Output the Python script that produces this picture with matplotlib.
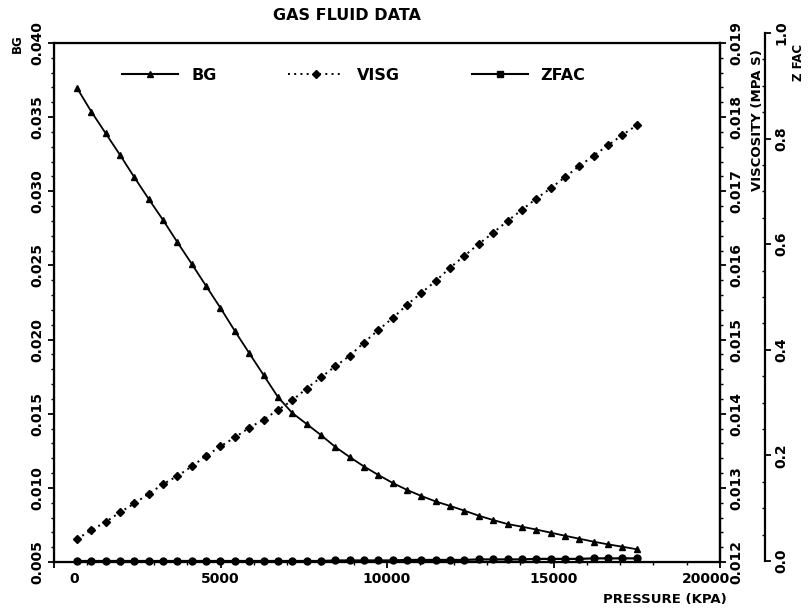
import matplotlib
matplotlib.use("Agg")
import matplotlib.pyplot as plt
from matplotlib.ticker import MultipleLocator, FormatStrFormatter
from matplotlib.lines import Line2D
import matplotlib.transforms as mtransforms

plt.rcParams['font.family'] = ['DejaVu Sans']
plt.rcParams['font.weight'] = 'bold'

# ---------------- data ----------------
pressure = [689.5, 1120.5, 1551.5, 1982.5, 2413.5, 2844.5, 3275.5, 3706.5, 4137.5, 4568.5,
            4999.5, 5430.5, 5861.5, 6292.5, 6723.5, 7154.5, 7585.5, 8016.5, 8447.5, 8878.5,
            9309.5, 9740.5, 10171.5, 10602.5, 11033.5, 11464.5, 11895.5, 12326.5, 12757.5, 13188.5,
            13619.5, 14050.5, 14481.5, 14912.5, 15343.5, 15774.5, 16205.5, 16636.5, 17067.5, 17498.5]

bg = [0.03697, 0.03537, 0.03391, 0.03245, 0.03094, 0.02948, 0.02806, 0.02656, 0.02510, 0.02361,
      0.02213, 0.02058, 0.01909, 0.01761, 0.01613, 0.01505, 0.01431, 0.01356, 0.01276, 0.01208,
      0.01144, 0.01087, 0.01033, 0.00986, 0.00945, 0.00908, 0.00878, 0.00846, 0.00812, 0.00783,
      0.00756, 0.00738, 0.00719, 0.00698, 0.00677, 0.00657, 0.00637, 0.00619, 0.00603, 0.00586]

visg = [0.01231, 0.01243, 0.01254, 0.01267, 0.01279, 0.01292, 0.01305, 0.01316, 0.01329, 0.01343,
        0.01356, 0.01368, 0.01381, 0.01392, 0.01405, 0.01418, 0.01434, 0.01449, 0.01464, 0.01478,
        0.01496, 0.01513, 0.01529, 0.01547, 0.01563, 0.01579, 0.01597, 0.01613, 0.01629, 0.01644,
        0.01660, 0.01675, 0.01690, 0.01704, 0.01719, 0.01734, 0.01748, 0.01762, 0.01776, 0.01789]

zfac = [0.000, 0.000, 0.000, 0.000, 0.000, 0.000, 0.000, 0.000, 0.000, 0.000,
        0.000, 0.000, 0.000, 0.000, 0.000, 0.000, 0.000, 0.000, 0.001, 0.001,
        0.001, 0.001, 0.001, 0.002, 0.002, 0.002, 0.002, 0.002, 0.003, 0.003,
        0.003, 0.003, 0.004, 0.004, 0.004, 0.004, 0.005, 0.005, 0.005, 0.005]

x_ticks = [0, 5000, 10000, 15000, 20000]
bg_ticks = [0.005, 0.010, 0.015, 0.020, 0.025, 0.030, 0.035, 0.040]
visc_ticks = [0.012, 0.013, 0.014, 0.015, 0.016, 0.017, 0.018, 0.019]
z_ticks = [0.0, 0.2, 0.4, 0.6, 0.8, 1.0]

# ---------------- layout ----------------
W, H = 811, 608
fig = plt.figure(figsize=(W / 100, H / 100), dpi=100)
fig.patch.set_facecolor('white')

x0, x1 = 54, 720
y_top, y_bot = 43, 562
ax = fig.add_axes([x0 / W, 1 - y_bot / H, (x1 - x0) / W, (y_bot - y_top) / H])
ax2 = ax.twinx()

zx = 765
z_top, z_bot = 33, 561
ax3 = fig.add_axes([x0 / W, 1 - z_bot / H, (zx - x0) / W, (z_bot - z_top) / H])
ax3.patch.set_visible(False)

fs = 10
lw_sp = 1.6

# main axis
ax.set_xlim(0, 20000)
ax.set_ylim(0.005, 0.040)
ax.set_xticks(x_ticks)
ax.xaxis.set_minor_locator(MultipleLocator(1000))
ax.set_yticks(bg_ticks)
ax.yaxis.set_minor_locator(MultipleLocator(0.001))
ax.yaxis.set_major_formatter(FormatStrFormatter('%.3f'))
for s in ['left', 'bottom', 'top', 'right']:
    ax.spines[s].set_linewidth(lw_sp)
ax.tick_params(axis='both', which='major', direction='out', length=4, width=1.3,
               labelsize=fs, pad=3)
ax.tick_params(axis='both', which='minor', direction='out', length=2.5, width=1.0)
for lab in ax.get_yticklabels():
    lab.set_rotation(90)
    lab.set_va('center')
    lab.set_fontweight('bold')
for lab in ax.get_xticklabels():
    lab.set_fontweight('bold')
# "0" label sits right of its tick and "20000" slightly left, as in the reference
xl = ax.get_xticklabels()
xl[0].set_transform(xl[0].get_transform() +
                    mtransforms.ScaledTranslation(20 / 100, 0, fig.dpi_scale_trans))
xl[-1].set_transform(xl[-1].get_transform() +
                     mtransforms.ScaledTranslation(-14 / 100, 0, fig.dpi_scale_trans))

# viscosity axis
ax2.set_ylim(0.012, 0.019)
ax2.set_yticks(visc_ticks)
ax2.yaxis.set_minor_locator(MultipleLocator(0.0002))
ax2.yaxis.set_major_formatter(FormatStrFormatter('%.3f'))
ax2.spines['right'].set_linewidth(lw_sp)
ax2.tick_params(axis='y', which='major', direction='out', length=4, width=1.3,
                labelsize=fs, pad=3)
ax2.tick_params(axis='y', which='minor', direction='out', length=2.5, width=1.0)
for lab in ax2.get_yticklabels():
    lab.set_rotation(90)
    lab.set_va('center')
    lab.set_fontweight('bold')

# Z factor axis
ax3.set_xlim(0, 20000 * (zx - x0) / (x1 - x0))
ax3.set_ylim(0.0, 1.0)
for s in ['left', 'bottom', 'top']:
    ax3.spines[s].set_visible(False)
ax3.spines['right'].set_linewidth(lw_sp)
ax3.xaxis.set_visible(False)
ax3.yaxis.tick_right()
ax3.set_yticks(z_ticks)
ax3.yaxis.set_minor_locator(MultipleLocator(0.05))
ax3.yaxis.set_major_formatter(FormatStrFormatter('%.1f'))
ax3.tick_params(axis='y', which='major', direction='out', length=4, width=1.3,
                labelsize=fs, pad=3)
ax3.tick_params(axis='y', which='minor', direction='in', length=2.5, width=1.0)
for lab in ax3.get_yticklabels():
    lab.set_rotation(90)
    lab.set_va('center')
    lab.set_fontweight('bold')

# ---------------- series ----------------
ax.plot(pressure, bg, color='black', lw=1.3, marker='^', ms=5, mfc='black', mec='black')
ax2.plot(pressure, visg, color='black', lw=1.4, ls=(0, (1, 2.2)), marker='D', ms=4,
         mfc='black', mec='black')
ax3.plot(pressure, zfac, color='black', lw=1.6, marker='o', ms=5, mfc='black',
         mec='black', clip_on=False)

# ---------------- legend ----------------
handles = [
    Line2D([], [], color='black', lw=1.5, marker='^', ms=5),
    Line2D([], [], color='black', lw=1.4, ls=(0, (1, 2.2)), marker='D', ms=4),
    Line2D([], [], color='black', lw=1.5, marker='s', ms=4),
]
leg = ax.legend(handles, ['BG', 'VISG', 'ZFAC'], ncol=3, frameon=False,
                loc='center left', bbox_to_anchor=((116 - x0) / (x1 - x0), (y_bot - 75) / (y_bot - y_top)),
                prop={'size': 11.5, 'weight': 'bold'}, handlelength=3.5, handletextpad=0.8,
                columnspacing=4.5, borderaxespad=0)

# ---------------- texts ----------------
fig.text(347 / W, 1 - 16 / H, 'GAS FLUID DATA', ha='center', va='center',
         fontsize=11.5, fontweight='bold')
fig.text(17 / W, 1 - 44 / H, 'BG', rotation=90, ha='center', va='center',
         fontsize=8.5, fontweight='bold')
fig.text(757 / W, 1 - 120 / H, 'VISCOSITY (MPA S)', rotation=90, ha='center', va='center',
         fontsize=9.5, fontweight='bold')
fig.text(798 / W, 1 - 62 / H, 'Z FAC', rotation=90, ha='center', va='center',
         fontsize=8.5, fontweight='bold')
fig.text(665 / W, 1 - 600 / H, 'PRESSURE (KPA)', ha='center', va='center',
         fontsize=9.5, fontweight='bold')

fig.savefig('out.png', dpi=100, facecolor='white')
